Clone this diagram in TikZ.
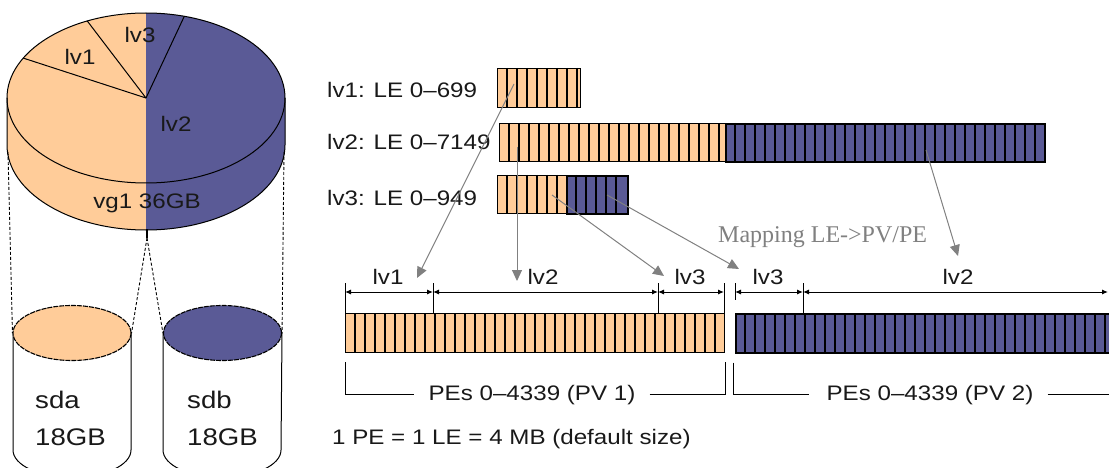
\documentclass[tikz,border=0pt]{standalone}
\usepackage{fontspec}
\setmainfont{Liberation Sans}[FakeStretch=1.15]
\newfontfamily\mapfont{Liberation Serif}
\usetikzlibrary{arrows.meta,calc,shapes.geometric}
\definecolor{peach}{RGB}{255,204,153}
\definecolor{slate}{RGB}{90,90,150}
\definecolor{ink}{RGB}{25,25,25}
\definecolor{mapgray}{RGB}{128,128,128}
\tikzset{
  txt/.style={inner sep=0pt, text=ink, font=\fontsize{21}{25}\selectfont},
  bigtxt/.style={inner sep=0pt, text=ink, font=\fontsize{24}{28}\selectfont},
  barbox/.style={draw=black, line width=1.2pt, inner sep=0pt, anchor=north west},
  bluebox/.style={barbox, fill=slate, line width=1.6pt},
  orangebox/.style={barbox, fill=peach},
  maparrow/.style={draw=mapgray, line width=1pt, -{Triangle[length=11pt,width=10pt]}},
  dimline/.style={draw=black, line width=1pt, {Latex[length=6pt,width=5pt]}-{Latex[length=6pt,width=5pt]}},
  tickline/.style={draw=black, line width=1pt},
  pieline/.style={draw=black, line width=1pt},
  linkdash/.style={draw=black, line width=0.9pt, dash pattern=on 3pt off 2pt},
  disktop/.style={ellipse, draw=black, line width=1.1pt, dash pattern=on 5pt off 1pt,
    minimum width=118pt, minimum height=55pt, inner sep=0pt},
}
% vertical cell separators: x start, y top, y bottom, count (10px pitch)
\newcommand\lvcells[4]{%
  \foreach \k in {1,...,#4}
    \draw[line width=1.2pt] ({#1+10*\k},#2) -- ({#1+10*\k},#3);}
\begin{document}
\begin{tikzpicture}[x=1pt, y=-1pt]
\useasboundingbox (0,0) rectangle (1109,468);
\clip (0,0) rectangle (1109,468);

% ---------------- volume group pie ----------------
\coordinate (pc) at (146,98);
\fill[peach] (146,98) -- (146,13) arc[start angle=90, end angle=270, x radius=139pt, y radius=85pt] -- cycle;
\fill[slate] (146,98) -- (146,13) arc[start angle=90, end angle=-90, x radius=139pt, y radius=85pt] -- cycle;
\fill[peach] (7,98) -- (7,145) arc[start angle=180, end angle=270, x radius=139pt, y radius=85pt]
  -- (146,183) arc[start angle=270, end angle=180, x radius=139pt, y radius=85pt] -- cycle;
\fill[slate] (146,183) -- (146,230) arc[start angle=270, end angle=360, x radius=139pt, y radius=85pt]
  -- (285,98) arc[start angle=0, end angle=-90, x radius=139pt, y radius=85pt] -- cycle;
\draw[pieline] (pc) ellipse[x radius=139pt, y radius=85pt];
\draw[pieline] (7,98) -- (7,145) arc[start angle=180, end angle=360, x radius=139pt, y radius=85pt] -- (285,98);
\draw[pieline] (pc) -- ($(pc)+(74:139pt and 85pt)$);
\draw[pieline] (pc) -- ($(pc)+(115:139pt and 85pt)$);
\draw[pieline] (pc) -- ($(pc)+(152:139pt and 85pt)$);

\node[txt, anchor=base] (plv3) at (140,43) {lv3};
\node[txt, anchor=base] (plv1) at (80,65) {lv1};
\node[txt, anchor=base] (plv2) at (176,132) {lv2};
\node[txt, anchor=base] (pvg) at (147,208) {vg1 36GB};

% ---------------- physical disks ----------------
\fill[white] (13,333) -- (13,450) arc[start angle=180, end angle=360, x radius=59pt, y radius=27.5pt] -- (131,333) -- cycle;
\draw[pieline] (13,333) -- (13,450) arc[start angle=180, end angle=360, x radius=59pt, y radius=27.5pt] -- (131,333);
\node[disktop, fill=peach] (sdatop) at (72,333) {};
\fill[white] (163,333) -- (163,450) arc[start angle=180, end angle=360, x radius=59pt, y radius=27.5pt] -- (282,333) -- cycle;
\draw[pieline] (163,333) -- (163,450) arc[start angle=180, end angle=360, x radius=59pt, y radius=27.5pt] -- (282,333);
\node[disktop, fill=slate] (sdbtop) at (222.5,333) {};

\node[bigtxt, anchor=base west] (sdaname) at (35,408) {sda};
\node[bigtxt, anchor=base west] (sdasize) at (35,445) {18GB};
\node[bigtxt, anchor=base west] (sdbname) at (187,408) {sdb};
\node[bigtxt, anchor=base west] (sdbsize) at (187,445) {18GB};

\coordinate (pieL) at (8,152);
\coordinate (pieR) at (284,152);
\coordinate (pieB) at (147,238);
\draw[line width=1.2pt] (147,229) -- (pieB);
\draw[linkdash] (pieL) -- (sdatop.west);
\draw[linkdash] (pieR) -- (sdbtop.east);
\draw[linkdash] (pieB) -- (sdatop.east);
\draw[linkdash] (pieB) -- (sdbtop.west);

% ---------------- logical volumes ----------------
\node[txt, anchor=base west] (lv1lbl) at (327,98) {lv1: LE 0–699};
\node[txt, anchor=base west] (lv2lbl) at (327,150) {lv2: LE 0–7149};
\node[txt, anchor=base west] (lv3lbl) at (327,205) {lv3: LE 0–949};

\node[orangebox, minimum width=83pt, minimum height=39pt] (lv1bar) at (497,68) {};
\lvcells{497}{68}{107}{8}
\node[orangebox, minimum width=226pt, minimum height=38pt] (lv2a) at (499,123) {};
\lvcells{499}{123}{161}{22}
\node[bluebox, minimum width=319pt, minimum height=38pt] (lv2b) at (725,123) {};
\lvcells{725}{123}{161}{31}
\node[orangebox, minimum width=69pt, minimum height=38pt] (lv3a) at (497,175) {};
\lvcells{497}{175}{213}{6}
\node[bluebox, minimum width=61pt, minimum height=38pt] (lv3b) at (566,175) {};
\lvcells{566}{175}{213}{5}

% ---------------- physical volumes ----------------
\node[orangebox, minimum width=379pt, minimum height=39pt] (pv1) at (345,313) {};
\lvcells{345}{313}{352}{37}
\node[bluebox, minimum width=380pt, minimum height=39pt] (pv2) at (735,313) {};
\lvcells{735}{313}{352}{37}

% extent dimension line above the PVs
\coordinate (d0) at (345,292);
\coordinate (d1) at (433,292);
\coordinate (d2) at (658,292);
\coordinate (d3) at (724,292);
\coordinate (d4) at (735,292);
\coordinate (d5) at (803,292);
\coordinate (d6) at (1108,292);
\draw[dimline] (d0) -- (d1);
\draw[dimline] (d1) -- (d2);
\draw[dimline] (d2) -- (d3);
\draw[dimline] (d4) -- (d5);
\draw[dimline] (d5) -- (d6);
\foreach \d in {d0,d1,d2,d3,d5}
  \draw[tickline] ([yshift=9pt]\d) -- (\d |- pv1.north);
\draw[tickline] ([yshift=9pt]d4) -- ([yshift=-8pt]d4);

\node[txt, anchor=base] (e1) at (388,284) {lv1};
\node[txt, anchor=base] (e2) at (543,284) {lv2};
\node[txt, anchor=base] (e3) at (690,284) {lv3};
\node[txt, anchor=base] (e4) at (768,284) {lv3};
\node[txt, anchor=base] (e5) at (958,284) {lv2};

% LE -> PE mapping arrows
\coordinate (s1) at (514,84);   \coordinate (t1) at (417,278);
\coordinate (s2) at (517,147);  \coordinate (t2) at (517,281);
\coordinate (s3) at (552,195);  \coordinate (t3) at (664,276);
\coordinate (s4) at (607,195);  \coordinate (t4) at (739,269);
\coordinate (s5) at (926,150);  \coordinate (t5) at (958,256);
\draw[maparrow] (s1) -- (t1);
\draw[maparrow] (s2) -- (t2);
\draw[maparrow] (s3) -- (t3);
\draw[maparrow] (s4) -- (t4);
\draw[maparrow] (s5) -- (t5);

\node[inner sep=0pt, anchor=base west, text=mapgray, font=\mapfont\fontsize{24}{28}\selectfont]
  (maplbl) at (718,242) {Mapping LE->PV/PE};

% PE range brackets
\coordinate (rightedge) at (1112,0);
\node[txt, anchor=base] (pe1) at (532,400) {PEs 0–4339 (PV 1)};
\node[txt, anchor=base] (pe2) at (930,400) {PEs 0–4339 (PV 2)};
\draw[tickline] ($(pv1.south west)+(0,9)$) |- ([xshift=-14pt]pe1.west);
\draw[tickline] ([xshift=14pt]pe1.east) -| ($(pv1.south east)+(0,9)$);
\draw[tickline] ($(pv2.south west)+(-2,9)$) |- ([xshift=-17pt]pe2.west);
\draw[tickline] ([xshift=14pt]pe2.east) -- (pe2.west -| rightedge);

\node[txt, anchor=base west] (note) at (332,444) {1 PE = 1 LE = 4 MB (default size)};
\end{tikzpicture}
\end{document}
